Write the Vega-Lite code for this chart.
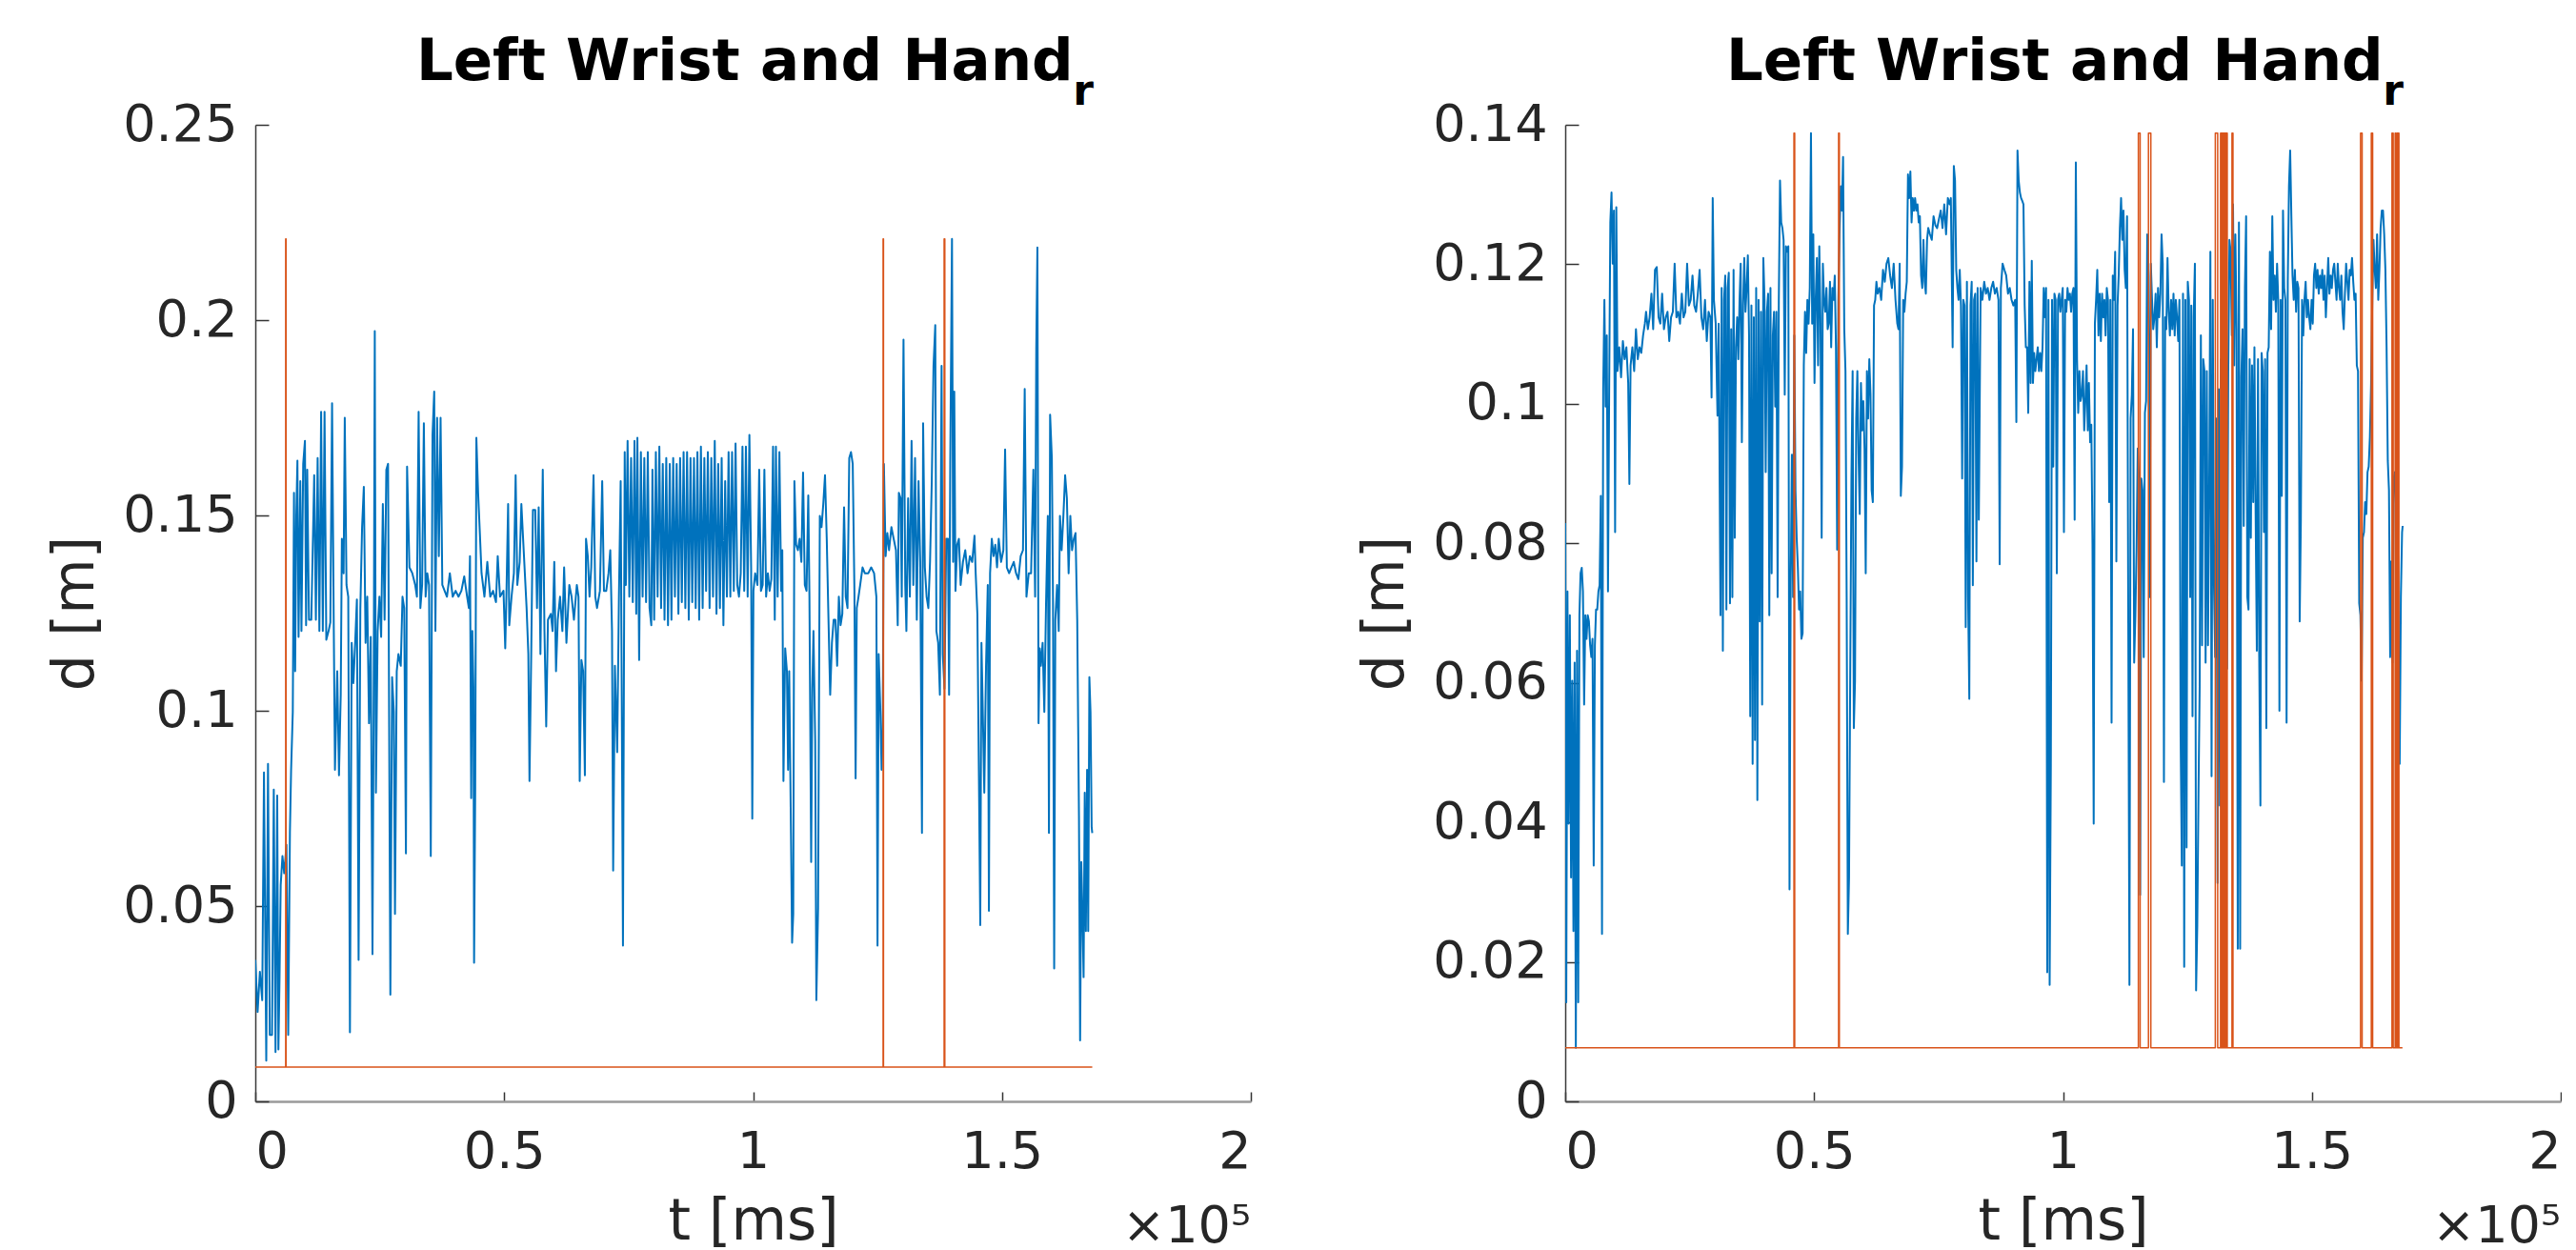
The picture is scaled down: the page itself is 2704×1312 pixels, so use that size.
{
  "$schema": "https://vega.github.io/schema/vega-lite/v6.json",
  "background": "white",
  "padding": {"left": 49, "top": 35, "right": 0, "bottom": 0},
  "bounds": "flush",
  "spacing": 330,
  "config": {
    "view": {"stroke": null},
    "font": "DejaVu Sans",
    "axis": {
      "grid": false,
      "labelFont": "DejaVu Sans", "labelFontSize": 54, "labelColor": "#262626",
      "titleFont": "DejaVu Sans", "titleFontSize": 60, "titleFontWeight": "normal", "titleColor": "#262626",
      "tickColor": "#333333", "tickWidth": 1.5
    },
    "axisX": {"tickSize": -10, "labelPadding": 36, "titlePadding": 17, "domainColor": "#9a9a9a", "domainWidth": 2.5},
    "axisY": {"tickSize": -14, "labelPadding": 33, "titlePadding": 18, "domainColor": "#3a3a3a", "domainWidth": 1.5},
    "title": {"font": "DejaVu Sans", "fontSize": 61, "fontWeight": "bold", "color": "#000000", "anchor": "end", "frame": "group", "baseline": "top", "offset": -16, "dx": -165, "subtitleFont": "DejaVu Sans", "subtitleFontSize": 44, "subtitleFontWeight": "bold", "subtitleColor": "#000000", "subtitlePadding": -22}
  },
  "datasets": {
    "L_blue": [
{"t":0,"d":0.0362},{"t":460,"d":0.0229},{"t":920,"d":0.0332},{"t":1390,"d":0.0259},{"t":1740,"d":0.0842},{"t":2200,"d":0.0104},{"t":2550,"d":0.0864},{"t":2900,"d":0.017},{"t":3360,"d":0.017},{"t":3710,"d":0.0798},{"t":4060,"d":0.0126},{"t":4400,"d":0.0783},{"t":4640,"d":0.0133},{"t":4870,"d":0.0318},{"t":5100,"d":0.0554},{"t":5450,"d":0.0628},{"t":5800,"d":0.0584},{"t":6260,"d":0.0657},{"t":6610,"d":0.017},{"t":6950,"d":0.0687},{"t":7190,"d":0.0849},{"t":7530,"d":0.0997},{"t":7770,"d":0.1558},{"t":8000,"d":0.1101},{"t":8230,"d":0.1499},{"t":8460,"d":0.164},{"t":8690,"d":0.1189},{"t":9040,"d":0.1588},{"t":9270,"d":0.1204},{"t":9620,"d":0.1632},{"t":9970,"d":0.1691},{"t":10200,"d":0.1219},{"t":10430,"d":0.1617},{"t":10780,"d":0.1233},{"t":11250,"d":0.1233},{"t":11830,"d":0.1603},{"t":12170,"d":0.1233},{"t":12520,"d":0.1647},{"t":12870,"d":0.1204},{"t":13220,"d":0.1765},{"t":13560,"d":0.1204},{"t":13910,"d":0.1765},{"t":14260,"d":0.1182},{"t":14720,"d":0.1204},{"t":15070,"d":0.1226},{"t":15420,"d":0.1787},{"t":15770,"d":0.1204},{"t":16000,"d":0.0849},{"t":16460,"d":0.1101},{"t":16810,"d":0.0835},{"t":17160,"d":0.1041},{"t":17390,"d":0.144},{"t":17740,"d":0.1352},{"t":17970,"d":0.175},{"t":18320,"d":0.1322},{"t":18670,"d":0.1292},{"t":19010,"d":0.0177},{"t":19360,"d":0.1174},{"t":19710,"d":0.1071},{"t":20060,"d":0.1174},{"t":20410,"d":0.1285},{"t":20750,"d":0.0362},{"t":21100,"d":0.1263},{"t":21450,"d":0.147},{"t":21800,"d":0.1573},{"t":22150,"d":0.1174},{"t":22490,"d":0.1292},{"t":22840,"d":0.0968},{"t":23190,"d":0.1189},{"t":23540,"d":0.0377},{"t":23770,"d":0.0997},{"t":24000,"d":0.1972},{"t":24230,"d":0.079},{"t":24580,"d":0.1204},{"t":24930,"d":0.1292},{"t":25280,"d":0.1189},{"t":25620,"d":0.1529},{"t":25970,"d":0.1233},{"t":26320,"d":0.1617},{"t":26670,"d":0.1632},{"t":26900,"d":0.0923},{"t":27130,"d":0.0273},{"t":27480,"d":0.1086},{"t":27830,"d":0.0997},{"t":28060,"d":0.048},{"t":28410,"d":0.1101},{"t":28750,"d":0.1145},{"t":29220,"d":0.1115},{"t":29570,"d":0.1292},{"t":29910,"d":0.1263},{"t":30260,"d":0.0635},{"t":30490,"d":0.1625},{"t":30960,"d":0.1367},{"t":31540,"d":0.1352},{"t":32120,"d":0.1322},{"t":32470,"d":0.1292},{"t":32810,"d":0.1765},{"t":33160,"d":0.1263},{"t":33510,"d":0.1322},{"t":33860,"d":0.1736},{"t":34210,"d":0.1292},{"t":34550,"d":0.1352},{"t":34900,"d":0.1322},{"t":35250,"d":0.0628},{"t":35600,"d":0.1706},{"t":35940,"d":0.1817},{"t":36180,"d":0.1204},{"t":36520,"d":0.175},{"t":36870,"d":0.1396},{"t":37220,"d":0.175},{"t":37570,"d":0.1322},{"t":38030,"d":0.1307},{"t":38500,"d":0.1292},{"t":39080,"d":0.1352},{"t":39660,"d":0.1292},{"t":40240,"d":0.1307},{"t":40820,"d":0.1292},{"t":41400,"d":0.1307},{"t":41970,"d":0.1344},{"t":42550,"d":0.1292},{"t":42900,"d":0.1263},{"t":43130,"d":0.1396},{"t":43370,"d":0.0776},{"t":43600,"d":0.1204},{"t":43830,"d":0.1056},{"t":43950,"d":0.0355},{"t":44180,"d":0.0805},{"t":44410,"d":0.1699},{"t":44760,"d":0.1558},{"t":45110,"d":0.1455},{"t":45450,"d":0.1352},{"t":46030,"d":0.1292},{"t":46610,"d":0.1381},{"t":47190,"d":0.1292},{"t":47770,"d":0.1307},{"t":48350,"d":0.1278},{"t":48700,"d":0.1396},{"t":49160,"d":0.1292},{"t":49860,"d":0.1307},{"t":50210,"d":0.116},{"t":50440,"d":0.1292},{"t":50790,"d":0.1529},{"t":51020,"d":0.1219},{"t":51480,"d":0.1292},{"t":51950,"d":0.1352},{"t":52300,"d":0.1603},{"t":52640,"d":0.1322},{"t":53110,"d":0.1381},{"t":53450,"d":0.1529},{"t":53800,"d":0.144},{"t":54150,"d":0.1352},{"t":54500,"d":0.1263},{"t":54850,"d":0.1145},{"t":55080,"d":0.082},{"t":55430,"d":0.1145},{"t":55770,"d":0.1514},{"t":56240,"d":0.1514},{"t":56590,"d":0.1263},{"t":56930,"d":0.1521},{"t":57280,"d":0.1145},{"t":57750,"d":0.1617},{"t":58090,"d":0.1204},{"t":58440,"d":0.096},{"t":58790,"d":0.1233},{"t":59370,"d":0.1248},{"t":59720,"d":0.1204},{"t":60060,"d":0.1381},{"t":60410,"d":0.1101},{"t":60760,"d":0.1233},{"t":61220,"d":0.1292},{"t":61690,"d":0.1204},{"t":62040,"d":0.1367},{"t":62500,"d":0.1174},{"t":63080,"d":0.1322},{"t":63540,"d":0.1292},{"t":64010,"d":0.1233},{"t":64590,"d":0.1322},{"t":64930,"d":0.1292},{"t":65170,"d":0.082},{"t":65510,"d":0.113},{"t":65860,"d":0.1101},{"t":66210,"d":0.0835},{"t":66440,"d":0.144},{"t":66790,"d":0.1396},{"t":67140,"d":0.1292},{"t":67490,"d":0.1367},{"t":67950,"d":0.1603},{"t":68300,"d":0.1292},{"t":68650,"d":0.1263},{"t":69230,"d":0.1307},{"t":69690,"d":0.1588},{"t":70040,"d":0.1307},{"t":70500,"d":0.1307},{"t":70960,"d":0.1352},{"t":71310,"d":0.1411},{"t":71660,"d":0.1204},{"t":71890,"d":0.0591},{"t":72240,"d":0.1115},{"t":72700,"d":0.0894},{"t":73050,"d":0.1292},{"t":73400,"d":0.1588},{"t":73630,"d":0.0997},{"t":73860,"d":0.0399},{"t":74210,"d":0.1662},{"t":74440,"d":0.1322},{"t":74790,"d":0.1691},{"t":75140,"d":0.1292},{"t":75490,"d":0.1647},{"t":75830,"d":0.1278},{"t":76180,"d":0.1691},{"t":76530,"d":0.1248},{"t":76760,"d":0.1699},{"t":77110,"d":0.113},{"t":77460,"d":0.1662},{"t":77810,"d":0.1292},{"t":78150,"d":0.1647},{"t":78500,"d":0.1278},{"t":78850,"d":0.1662},{"t":79200,"d":0.1263},{"t":79550,"d":0.1219},{"t":79780,"d":0.1617},{"t":80130,"d":0.1233},{"t":80470,"d":0.1662},{"t":80820,"d":0.1292},{"t":81170,"d":0.1676},{"t":81520,"d":0.1263},{"t":81860,"d":0.1632},{"t":82210,"d":0.1233},{"t":82560,"d":0.1647},{"t":82910,"d":0.1219},{"t":83260,"d":0.1632},{"t":83600,"d":0.1233},{"t":83950,"d":0.1647},{"t":84300,"d":0.1292},{"t":84650,"d":0.1632},{"t":85000,"d":0.1248},{"t":85340,"d":0.1647},{"t":85690,"d":0.1278},{"t":86040,"d":0.1662},{"t":86390,"d":0.1263},{"t":86740,"d":0.1662},{"t":87080,"d":0.1233},{"t":87430,"d":0.1647},{"t":87780,"d":0.1278},{"t":88130,"d":0.1647},{"t":88470,"d":0.1263},{"t":88820,"d":0.1662},{"t":89170,"d":0.1233},{"t":89520,"d":0.1676},{"t":89870,"d":0.1263},{"t":90210,"d":0.1647},{"t":90560,"d":0.1307},{"t":90910,"d":0.1662},{"t":91260,"d":0.1263},{"t":91610,"d":0.1647},{"t":91950,"d":0.1292},{"t":92300,"d":0.1691},{"t":92650,"d":0.1248},{"t":93000,"d":0.1632},{"t":93340,"d":0.1263},{"t":93690,"d":0.1647},{"t":94040,"d":0.1219},{"t":94390,"d":0.1588},{"t":94740,"d":0.1292},{"t":95080,"d":0.1662},{"t":95430,"d":0.1292},{"t":95780,"d":0.1662},{"t":96130,"d":0.1307},{"t":96480,"d":0.1684},{"t":96820,"d":0.1322},{"t":97170,"d":0.1292},{"t":97520,"d":0.1352},{"t":97870,"d":0.1676},{"t":98220,"d":0.1307},{"t":98560,"d":0.1676},{"t":98910,"d":0.1292},{"t":99260,"d":0.1706},{"t":99610,"d":0.1367},{"t":99840,"d":0.0724},{"t":100070,"d":0.1307},{"t":100420,"d":0.1352},{"t":100880,"d":0.1322},{"t":101230,"d":0.1617},{"t":101580,"d":0.1307},{"t":101930,"d":0.1322},{"t":102270,"d":0.1617},{"t":102620,"d":0.1292},{"t":102970,"d":0.1352},{"t":103320,"d":0.1307},{"t":103670,"d":0.1337},{"t":104010,"d":0.1676},{"t":104360,"d":0.1233},{"t":104590,"d":0.1676},{"t":104940,"d":0.1292},{"t":105290,"d":0.1662},{"t":105640,"d":0.1307},{"t":105870,"d":0.1411},{"t":106100,"d":0.082},{"t":106450,"d":0.116},{"t":106800,"d":0.1101},{"t":107030,"d":0.0849},{"t":107260,"d":0.1101},{"t":107610,"d":0.0687},{"t":107840,"d":0.0406},{"t":108070,"d":0.048},{"t":108300,"d":0.1588},{"t":108650,"d":0.1425},{"t":109000,"d":0.1411},{"t":109350,"d":0.144},{"t":109700,"d":0.1381},{"t":110040,"d":0.161},{"t":110390,"d":0.1322},{"t":110740,"d":0.1307},{"t":111090,"d":0.1551},{"t":111320,"d":0.1292},{"t":111670,"d":0.0613},{"t":111900,"d":0.1056},{"t":112130,"d":0.1204},{"t":112480,"d":0.0923},{"t":112710,"d":0.0259},{"t":113060,"d":0.0495},{"t":113410,"d":0.1499},{"t":113750,"d":0.147},{"t":114100,"d":0.1529},{"t":114450,"d":0.1603},{"t":114800,"d":0.144},{"t":115150,"d":0.1233},{"t":115490,"d":0.1041},{"t":115840,"d":0.1174},{"t":116190,"d":0.1233},{"t":116540,"d":0.1233},{"t":116890,"d":0.1115},{"t":117230,"d":0.1292},{"t":117580,"d":0.1219},{"t":117930,"d":0.1248},{"t":118280,"d":0.1521},{"t":118620,"d":0.1292},{"t":118970,"d":0.1263},{"t":119320,"d":0.1647},{"t":119670,"d":0.1662},{"t":120020,"d":0.1632},{"t":120360,"d":0.1307},{"t":120600,"d":0.0827},{"t":120830,"d":0.1263},{"t":121180,"d":0.1292},{"t":121520,"d":0.1322},{"t":121990,"d":0.1367},{"t":122450,"d":0.1352},{"t":123150,"d":0.1352},{"t":123730,"d":0.1367},{"t":124310,"d":0.1352},{"t":124770,"d":0.1292},{"t":125000,"d":0.0399},{"t":125230,"d":0.1145},{"t":125580,"d":0.0997},{"t":125810,"d":0.0849},{"t":126050,"d":0.0953},{"t":126280,"d":0.1632},{"t":126630,"d":0.1396},{"t":126970,"d":0.1455},{"t":127320,"d":0.1411},{"t":127790,"d":0.147},{"t":128250,"d":0.144},{"t":128710,"d":0.1411},{"t":129060,"d":0.1219},{"t":129290,"d":0.1558},{"t":129640,"d":0.1544},{"t":129870,"d":0.1292},{"t":130220,"d":0.195},{"t":130570,"d":0.1322},{"t":130800,"d":0.1204},{"t":131150,"d":0.1544},{"t":131500,"d":0.1292},{"t":131840,"d":0.1691},{"t":132190,"d":0.1322},{"t":132540,"d":0.1647},{"t":132890,"d":0.1233},{"t":133240,"d":0.1588},{"t":133580,"d":0.1381},{"t":133930,"d":0.0687},{"t":134160,"d":0.1736},{"t":134510,"d":0.1367},{"t":134860,"d":0.1292},{"t":135210,"d":0.1263},{"t":135550,"d":0.1381},{"t":135900,"d":0.1588},{"t":136250,"d":0.1883},{"t":136600,"d":0.1987},{"t":136830,"d":0.1204},{"t":137180,"d":0.1174},{"t":137530,"d":0.1041},{"t":137870,"d":0.1883},{"t":138110,"d":0.1145},{"t":138450,"d":0.1056},{"t":138800,"d":0.144},{"t":139150,"d":0.144},{"t":139380,"d":0.1041},{"t":139610,"d":0.1632},{"t":139960,"d":0.2208},{"t":140190,"d":0.1381},{"t":140420,"d":0.1817},{"t":140660,"d":0.1307},{"t":141000,"d":0.1425},{"t":141350,"d":0.144},{"t":141700,"d":0.1322},{"t":142160,"d":0.1381},{"t":142630,"d":0.1411},{"t":143090,"d":0.1352},{"t":143560,"d":0.1396},{"t":144020,"d":0.1381},{"t":144480,"d":0.1448},{"t":144720,"d":0.1352},{"t":145060,"d":0.1248},{"t":145410,"d":0.0776},{"t":145640,"d":0.0451},{"t":145880,"d":0.1174},{"t":146110,"d":0.1027},{"t":146450,"d":0.079},{"t":146800,"d":0.1115},{"t":147150,"d":0.1322},{"t":147380,"d":0.0488},{"t":147610,"d":0.1352},{"t":147960,"d":0.144},{"t":148310,"d":0.1396},{"t":148660,"d":0.1425},{"t":149010,"d":0.1367},{"t":149350,"d":0.144},{"t":149820,"d":0.1381},{"t":150280,"d":0.1411},{"t":150630,"d":0.1669},{"t":150980,"d":0.1367},{"t":151440,"d":0.1352},{"t":151900,"d":0.1367},{"t":152370,"d":0.1381},{"t":152830,"d":0.1352},{"t":153300,"d":0.1337},{"t":153760,"d":0.1396},{"t":154220,"d":0.1411},{"t":154570,"d":0.1824},{"t":154920,"d":0.1292},{"t":155380,"d":0.1352},{"t":155850,"d":0.1352},{"t":156310,"d":0.1617},{"t":156660,"d":0.1292},{"t":156890,"d":0.1928},{"t":157120,"d":0.2186},{"t":157350,"d":0.0968},{"t":157590,"d":0.116},{"t":157820,"d":0.1115},{"t":158170,"d":0.1174},{"t":158510,"d":0.0997},{"t":158860,"d":0.1278},{"t":159210,"d":0.1499},{"t":159440,"d":0.0687},{"t":159670,"d":0.1758},{"t":160020,"d":0.1647},{"t":160250,"d":0.1292},{"t":160490,"d":0.034},{"t":160720,"d":0.1233},{"t":161070,"d":0.1322},{"t":161410,"d":0.1204},{"t":161650,"d":0.1499},{"t":161990,"d":0.1411},{"t":162340,"d":0.1499},{"t":162690,"d":0.1603},{"t":163040,"d":0.1544},{"t":163390,"d":0.1352},{"t":163730,"d":0.1499},{"t":164080,"d":0.1411},{"t":164430,"d":0.144},{"t":164780,"d":0.1455},{"t":165120,"d":0.1233},{"t":165470,"d":0.0731},{"t":165700,"d":0.0156},{"t":165940,"d":0.0613},{"t":166170,"d":0.048},{"t":166400,"d":0.0318},{"t":166630,"d":0.079},{"t":166860,"d":0.0436},{"t":167100,"d":0.0849},{"t":167330,"d":0.0436},{"t":167560,"d":0.1086},{"t":167790,"d":0.0997},{"t":168020,"d":0.0702},{"t":168140,"d":0.0687}
    ],
    "L_orange": [
{"t":0,"d":0.0088},{"t":6100,"d":0.0088},{"t":6100,"d":0.2208},{"t":6180,"d":0.2208},{"t":6180,"d":0.0088},{"t":126120,"d":0.0088},{"t":126120,"d":0.2208},{"t":126200,"d":0.2208},{"t":126200,"d":0.0088},{"t":138380,"d":0.0088},{"t":138380,"d":0.2208},{"t":138520,"d":0.2208},{"t":138520,"d":0.0088},{"t":168140,"d":0.0088}
    ],
    "R_blue": [
{"t":0,"d":0.0829},{"t":210,"d":0.0142},{"t":450,"d":0.0731},{"t":690,"d":0.0398},{"t":930,"d":0.0697},{"t":1170,"d":0.0321},{"t":1410,"d":0.0603},{"t":1650,"d":0.0244},{"t":1890,"d":0.0629},{"t":2130,"d":0.0077},{"t":2370,"d":0.0646},{"t":2610,"d":0.0142},{"t":2850,"d":0.0697},{"t":3080,"d":0.0757},{"t":3320,"d":0.0765},{"t":3560,"d":0.0731},{"t":3800,"d":0.0569},{"t":4040,"d":0.0697},{"t":4280,"d":0.0663},{"t":4520,"d":0.0697},{"t":4760,"d":0.0688},{"t":5000,"d":0.0654},{"t":5240,"d":0.0637},{"t":5480,"d":0.0663},{"t":5720,"d":0.0338},{"t":5960,"d":0.0654},{"t":6190,"d":0.0705},{"t":6430,"d":0.0705},{"t":6670,"d":0.0731},{"t":6910,"d":0.074},{"t":7150,"d":0.0868},{"t":7390,"d":0.024},{"t":7630,"d":0.1021},{"t":7870,"d":0.1149},{"t":8110,"d":0.0996},{"t":8350,"d":0.1098},{"t":8590,"d":0.0731},{"t":8830,"d":0.1021},{"t":9060,"d":0.126},{"t":9300,"d":0.1303},{"t":9540,"d":0.1201},{"t":9780,"d":0.1277},{"t":10020,"d":0.0816},{"t":10260,"d":0.1282},{"t":10500,"d":0.1047},{"t":10860,"d":0.1081},{"t":11220,"d":0.1038},{"t":11580,"d":0.109},{"t":11930,"d":0.1064},{"t":12290,"d":0.1081},{"t":12650,"d":0.103},{"t":12890,"d":0.0885},{"t":13130,"d":0.1055},{"t":13490,"d":0.1081},{"t":13850,"d":0.1047},{"t":14210,"d":0.1107},{"t":14570,"d":0.1064},{"t":14920,"d":0.1081},{"t":15280,"d":0.1073},{"t":15640,"d":0.1098},{"t":16000,"d":0.1115},{"t":16240,"d":0.1132},{"t":16600,"d":0.1107},{"t":16960,"d":0.1124},{"t":17320,"d":0.1158},{"t":17670,"d":0.1107},{"t":18030,"d":0.1192},{"t":18390,"d":0.1196},{"t":18750,"d":0.1124},{"t":19110,"d":0.1115},{"t":19470,"d":0.1158},{"t":19830,"d":0.1107},{"t":20190,"d":0.1124},{"t":20550,"d":0.1132},{"t":20900,"d":0.109},{"t":21260,"d":0.1124},{"t":21620,"d":0.1132},{"t":21980,"d":0.1201},{"t":22340,"d":0.1124},{"t":22700,"d":0.1132},{"t":23060,"d":0.1115},{"t":23420,"d":0.1158},{"t":23770,"d":0.1124},{"t":24130,"d":0.1132},{"t":24490,"d":0.1201},{"t":24850,"d":0.1141},{"t":25210,"d":0.1149},{"t":25570,"d":0.1184},{"t":25930,"d":0.1141},{"t":26290,"d":0.1132},{"t":26640,"d":0.1158},{"t":27000,"d":0.1192},{"t":27360,"d":0.1124},{"t":27720,"d":0.1107},{"t":28080,"d":0.1149},{"t":28440,"d":0.109},{"t":28800,"d":0.1132},{"t":29160,"d":0.1124},{"t":29400,"d":0.1009},{"t":29630,"d":0.1295},{"t":29870,"d":0.1149},{"t":30230,"d":0.1115},{"t":30590,"d":0.0983},{"t":30830,"d":0.1115},{"t":31190,"d":0.0697},{"t":31430,"d":0.1166},{"t":31670,"d":0.0646},{"t":31910,"d":0.1149},{"t":32150,"d":0.1184},{"t":32380,"d":0.0705},{"t":32620,"d":0.1166},{"t":32860,"d":0.1188},{"t":33100,"d":0.0714},{"t":33340,"d":0.1107},{"t":33580,"d":0.0723},{"t":33820,"d":0.1192},{"t":34060,"d":0.0808},{"t":34300,"d":0.1081},{"t":34540,"d":0.1124},{"t":34780,"d":0.1064},{"t":35020,"d":0.1149},{"t":35250,"d":0.1201},{"t":35490,"d":0.0945},{"t":35730,"d":0.1141},{"t":35970,"d":0.1209},{"t":36210,"d":0.1132},{"t":36450,"d":0.1166},{"t":36690,"d":0.1213},{"t":36930,"d":0.1098},{"t":37170,"d":0.0552},{"t":37410,"d":0.1141},{"t":37650,"d":0.0484},{"t":37890,"d":0.1124},{"t":38120,"d":0.0518},{"t":38360,"d":0.1166},{"t":38600,"d":0.0432},{"t":38840,"d":0.1149},{"t":39080,"d":0.0688},{"t":39320,"d":0.1132},{"t":39560,"d":0.0569},{"t":39800,"d":0.1209},{"t":40040,"d":0.1149},{"t":40280,"d":0.0902},{"t":40520,"d":0.1132},{"t":40760,"d":0.1158},{"t":41000,"d":0.0697},{"t":41230,"d":0.1166},{"t":41470,"d":0.0757},{"t":41710,"d":0.1098},{"t":41950,"d":0.1132},{"t":42190,"d":0.0996},{"t":42430,"d":0.1132},{"t":42670,"d":0.0723},{"t":42910,"d":0.1149},{"t":43150,"d":0.132},{"t":43390,"d":0.126},{"t":43630,"d":0.1252},{"t":43870,"d":0.1235},{"t":44100,"d":0.1013},{"t":44340,"d":0.1226},{"t":44580,"d":0.1218},{"t":44820,"d":0.1226},{"t":45060,"d":0.0304},{"t":45300,"d":0.074},{"t":45540,"d":0.0927},{"t":45780,"d":0.0723},{"t":46020,"d":0.1098},{"t":46260,"d":0.0876},{"t":46500,"d":0.0808},{"t":46740,"d":0.0765},{"t":46970,"d":0.0705},{"t":47210,"d":0.0731},{"t":47450,"d":0.0663},{"t":47690,"d":0.0671},{"t":47930,"d":0.1055},{"t":48170,"d":0.1132},{"t":48410,"d":0.1073},{"t":48650,"d":0.1149},{"t":48890,"d":0.1115},{"t":49130,"d":0.1166},{"t":49370,"d":0.1388},{"t":49610,"d":0.1115},{"t":49840,"d":0.1243},{"t":50080,"d":0.103},{"t":50320,"d":0.1149},{"t":50560,"d":0.1209},{"t":50800,"d":0.1055},{"t":51040,"d":0.1226},{"t":51280,"d":0.1124},{"t":51520,"d":0.0808},{"t":51760,"d":0.1201},{"t":52000,"d":0.1149},{"t":52240,"d":0.1132},{"t":52480,"d":0.1166},{"t":52720,"d":0.1107},{"t":52950,"d":0.1115},{"t":53190,"d":0.1175},{"t":53430,"d":0.1081},{"t":53670,"d":0.1166},{"t":53910,"d":0.1149},{"t":54150,"d":0.1184},{"t":54390,"d":0.1081},{"t":54630,"d":0.0791},{"t":54870,"d":0.1149},{"t":55110,"d":0.1243},{"t":55350,"d":0.1312},{"t":55590,"d":0.1277},{"t":55820,"d":0.1354},{"t":56060,"d":0.1107},{"t":56300,"d":0.1047},{"t":56540,"d":0.0723},{"t":56780,"d":0.024},{"t":57020,"d":0.0321},{"t":57260,"d":0.062},{"t":57500,"d":0.0893},{"t":57740,"d":0.1047},{"t":57980,"d":0.0535},{"t":58220,"d":0.0603},{"t":58460,"d":0.0979},{"t":58690,"d":0.1047},{"t":58930,"d":0.0927},{"t":59170,"d":0.0842},{"t":59410,"d":0.103},{"t":59650,"d":0.0962},{"t":59890,"d":0.1004},{"t":60130,"d":0.0936},{"t":60370,"d":0.0757},{"t":60610,"d":0.1047},{"t":60850,"d":0.0979},{"t":61090,"d":0.1064},{"t":61330,"d":0.1013},{"t":61560,"d":0.0876},{"t":61800,"d":0.0859},{"t":62040,"d":0.1141},{"t":62280,"d":0.1149},{"t":62520,"d":0.1175},{"t":62760,"d":0.1158},{"t":63120,"d":0.1166},{"t":63480,"d":0.1149},{"t":63840,"d":0.1192},{"t":64200,"d":0.1175},{"t":64550,"d":0.1201},{"t":64910,"d":0.1209},{"t":65270,"d":0.1184},{"t":65630,"d":0.1166},{"t":65990,"d":0.1201},{"t":66350,"d":0.1149},{"t":66710,"d":0.1115},{"t":66950,"d":0.1107},{"t":67190,"d":0.1201},{"t":67420,"d":0.0868},{"t":67660,"d":0.091},{"t":67900,"d":0.1149},{"t":68140,"d":0.1132},{"t":68380,"d":0.1158},{"t":68620,"d":0.1175},{"t":68860,"d":0.1329},{"t":69100,"d":0.1295},{"t":69340,"d":0.1333},{"t":69580,"d":0.126},{"t":69820,"d":0.1295},{"t":70060,"d":0.1277},{"t":70290,"d":0.1295},{"t":70530,"d":0.1277},{"t":70770,"d":0.1286},{"t":71010,"d":0.126},{"t":71250,"d":0.1269},{"t":71490,"d":0.1184},{"t":71730,"d":0.1166},{"t":71970,"d":0.1235},{"t":72210,"d":0.1175},{"t":72450,"d":0.1158},{"t":72690,"d":0.1235},{"t":72930,"d":0.1252},{"t":73280,"d":0.1243},{"t":73640,"d":0.1235},{"t":74000,"d":0.1269},{"t":74360,"d":0.1256},{"t":74720,"d":0.1252},{"t":75080,"d":0.1265},{"t":75440,"d":0.1277},{"t":75800,"d":0.1252},{"t":76150,"d":0.1286},{"t":76510,"d":0.1243},{"t":76870,"d":0.1295},{"t":77230,"d":0.1286},{"t":77470,"d":0.1295},{"t":77830,"d":0.1081},{"t":78070,"d":0.1341},{"t":78310,"d":0.132},{"t":78550,"d":0.1192},{"t":78790,"d":0.1166},{"t":79020,"d":0.1149},{"t":79260,"d":0.1192},{"t":79500,"d":0.1141},{"t":79740,"d":0.0893},{"t":79980,"d":0.1149},{"t":80220,"d":0.1141},{"t":80460,"d":0.068},{"t":80700,"d":0.1175},{"t":80940,"d":0.0723},{"t":81180,"d":0.0577},{"t":81420,"d":0.1141},{"t":81660,"d":0.1175},{"t":81890,"d":0.074},{"t":82130,"d":0.1149},{"t":82370,"d":0.1158},{"t":82610,"d":0.0774},{"t":82850,"d":0.1166},{"t":83090,"d":0.0834},{"t":83450,"d":0.1166},{"t":83810,"d":0.1149},{"t":84170,"d":0.1175},{"t":84530,"d":0.1158},{"t":84880,"d":0.1166},{"t":85240,"d":0.1149},{"t":85600,"d":0.1166},{"t":85960,"d":0.1175},{"t":86320,"d":0.1158},{"t":86680,"d":0.1166},{"t":87040,"d":0.1149},{"t":87280,"d":0.077},{"t":87520,"d":0.1166},{"t":87870,"d":0.1201},{"t":88230,"d":0.1192},{"t":88590,"d":0.1184},{"t":88950,"d":0.1158},{"t":89310,"d":0.1166},{"t":89670,"d":0.1149},{"t":90030,"d":0.1141},{"t":90390,"d":0.1149},{"t":90630,"d":0.0974},{"t":90860,"d":0.1363},{"t":91100,"d":0.132},{"t":91340,"d":0.1303},{"t":91580,"d":0.1295},{"t":91820,"d":0.1291},{"t":92060,"d":0.1286},{"t":92300,"d":0.1141},{"t":92540,"d":0.1081},{"t":92780,"d":0.1081},{"t":93020,"d":0.0987},{"t":93260,"d":0.1175},{"t":93500,"d":0.103},{"t":93730,"d":0.1205},{"t":93970,"d":0.103},{"t":94210,"d":0.1073},{"t":94450,"d":0.1047},{"t":94690,"d":0.1064},{"t":94930,"d":0.1081},{"t":95170,"d":0.1047},{"t":95410,"d":0.1073},{"t":95650,"d":0.1047},{"t":95890,"d":0.1081},{"t":96130,"d":0.1166},{"t":96370,"d":0.1124},{"t":96600,"d":0.1166},{"t":96840,"d":0.0185},{"t":97080,"d":0.1149},{"t":97320,"d":0.0167},{"t":97560,"d":0.0484},{"t":97800,"d":0.1149},{"t":98040,"d":0.091},{"t":98280,"d":0.1158},{"t":98520,"d":0.1149},{"t":98760,"d":0.0757},{"t":99000,"d":0.1149},{"t":99240,"d":0.1158},{"t":99470,"d":0.1132},{"t":99710,"d":0.1149},{"t":99950,"d":0.1166},{"t":100190,"d":0.0816},{"t":100430,"d":0.1149},{"t":100670,"d":0.1132},{"t":100910,"d":0.1166},{"t":101150,"d":0.1149},{"t":101390,"d":0.1158},{"t":101630,"d":0.1132},{"t":101870,"d":0.1158},{"t":102110,"d":0.1166},{"t":102340,"d":0.0834},{"t":102580,"d":0.1346},{"t":102820,"d":0.1064},{"t":103060,"d":0.0987},{"t":103300,"d":0.1047},{"t":103540,"d":0.1004},{"t":103780,"d":0.1013},{"t":104020,"d":0.1047},{"t":104260,"d":0.0962},{"t":104500,"d":0.1004},{"t":104740,"d":0.1055},{"t":104980,"d":0.0962},{"t":105210,"d":0.103},{"t":105450,"d":0.0945},{"t":105690,"d":0.097},{"t":105930,"d":0.0799},{"t":106170,"d":0.0398},{"t":106410,"d":0.1115},{"t":106650,"d":0.1149},{"t":106890,"d":0.1192},{"t":107130,"d":0.1098},{"t":107370,"d":0.1158},{"t":107610,"d":0.109},{"t":107850,"d":0.1158},{"t":108090,"d":0.1124},{"t":108320,"d":0.1149},{"t":108560,"d":0.1098},{"t":108800,"d":0.1166},{"t":109040,"d":0.1149},{"t":109280,"d":0.0859},{"t":109520,"d":0.1149},{"t":109760,"d":0.0543},{"t":110000,"d":0.1184},{"t":110240,"d":0.1149},{"t":110480,"d":0.1218},{"t":110720,"d":0.0774},{"t":110960,"d":0.1141},{"t":111190,"d":0.1184},{"t":111430,"d":0.1252},{"t":111670,"d":0.1295},{"t":111910,"d":0.1235},{"t":112150,"d":0.1277},{"t":112390,"d":0.1192},{"t":112630,"d":0.1166},{"t":112870,"d":0.1269},{"t":113110,"d":0.0697},{"t":113350,"d":0.0167},{"t":113590,"d":0.0979},{"t":113830,"d":0.1013},{"t":114070,"d":0.1107},{"t":114300,"d":0.0629},{"t":114540,"d":0.0697},{"t":114780,"d":0.0791},{"t":115020,"d":0.0936},{"t":115260,"d":0.0893},{"t":115500,"d":0.0296},{"t":115740,"d":0.0893},{"t":115980,"d":0.0876},{"t":116220,"d":0.0637},{"t":116460,"d":0.0987},{"t":116700,"d":0.1004},{"t":116930,"d":0.1243},{"t":117170,"d":0.1184},{"t":117410,"d":0.0723},{"t":117650,"d":0.1201},{"t":117890,"d":0.1149},{"t":118130,"d":0.1107},{"t":118370,"d":0.1124},{"t":118610,"d":0.1158},{"t":118850,"d":0.1081},{"t":119090,"d":0.1166},{"t":119330,"d":0.1124},{"t":119570,"d":0.1158},{"t":119800,"d":0.1243},{"t":120040,"d":0.1201},{"t":120280,"d":0.0458},{"t":120520,"d":0.1124},{"t":120760,"d":0.1107},{"t":121000,"d":0.1209},{"t":121240,"d":0.1132},{"t":121480,"d":0.1098},{"t":121720,"d":0.1149},{"t":121960,"d":0.1107},{"t":122200,"d":0.1158},{"t":122440,"d":0.1098},{"t":122670,"d":0.1149},{"t":122910,"d":0.1124},{"t":123150,"d":0.109},{"t":123390,"d":0.1149},{"t":123630,"d":0.0526},{"t":123870,"d":0.0338},{"t":124110,"d":0.1158},{"t":124350,"d":0.0193},{"t":124590,"d":0.1149},{"t":124830,"d":0.0364},{"t":125070,"d":0.1175},{"t":125310,"d":0.1149},{"t":125550,"d":0.0723},{"t":125780,"d":0.1141},{"t":126020,"d":0.0552},{"t":126260,"d":0.1124},{"t":126500,"d":0.1201},{"t":126740,"d":0.0159},{"t":126980,"d":0.0253},{"t":127220,"d":0.0441},{"t":127460,"d":0.0595},{"t":127700,"d":0.1098},{"t":127940,"d":0.0654},{"t":128180,"d":0.1064},{"t":128420,"d":0.1047},{"t":128650,"d":0.0629},{"t":128890,"d":0.1047},{"t":129130,"d":0.0654},{"t":129370,"d":0.0876},{"t":129610,"d":0.1218},{"t":129850,"d":0.0466},{"t":130090,"d":0.1149},{"t":130330,"d":0.074},{"t":130570,"d":0.0637},{"t":130810,"d":0.0979},{"t":131050,"d":0.0313},{"t":131290,"d":0.1021},{"t":131520,"d":0.0424},{"t":131760,"d":0.1064},{"t":132000,"d":0.0381},{"t":132240,"d":0.0979},{"t":132480,"d":0.0603},{"t":132720,"d":0.1081},{"t":132960,"d":0.062},{"t":133200,"d":0.1047},{"t":133440,"d":0.1235},{"t":133680,"d":0.1218},{"t":133920,"d":0.1098},{"t":134160,"d":0.1286},{"t":134390,"d":0.1055},{"t":134630,"d":0.1243},{"t":134870,"d":0.1107},{"t":135110,"d":0.0219},{"t":135350,"d":0.126},{"t":135590,"d":0.0219},{"t":135830,"d":0.1038},{"t":136070,"d":0.1107},{"t":136310,"d":0.0825},{"t":136550,"d":0.1166},{"t":136790,"d":0.1269},{"t":137030,"d":0.0723},{"t":137270,"d":0.0705},{"t":137500,"d":0.1064},{"t":137740,"d":0.0808},{"t":137980,"d":0.1055},{"t":138220,"d":0.0859},{"t":138460,"d":0.1081},{"t":138700,"d":0.0842},{"t":138940,"d":0.0646},{"t":139180,"d":0.1064},{"t":139420,"d":0.0637},{"t":139660,"d":0.0424},{"t":139900,"d":0.1073},{"t":140140,"d":0.1047},{"t":140370,"d":0.0816},{"t":140610,"d":0.1064},{"t":140850,"d":0.0535},{"t":141090,"d":0.1073},{"t":141330,"d":0.1081},{"t":141570,"d":0.1218},{"t":141810,"d":0.1107},{"t":142050,"d":0.1269},{"t":142290,"d":0.1149},{"t":142530,"d":0.1184},{"t":142770,"d":0.1132},{"t":143010,"d":0.1201},{"t":143240,"d":0.1149},{"t":143480,"d":0.056},{"t":143720,"d":0.1149},{"t":143960,"d":0.0868},{"t":144200,"d":0.1277},{"t":144440,"d":0.1166},{"t":144680,"d":0.1149},{"t":144920,"d":0.0543},{"t":145160,"d":0.1175},{"t":145400,"d":0.1312},{"t":145640,"d":0.1363},{"t":145880,"d":0.1269},{"t":146110,"d":0.1184},{"t":146350,"d":0.1149},{"t":146590,"d":0.1192},{"t":146830,"d":0.1132},{"t":147070,"d":0.1175},{"t":147310,"d":0.1166},{"t":147550,"d":0.0688},{"t":147790,"d":0.0834},{"t":148030,"d":0.1149},{"t":148270,"d":0.1098},{"t":148510,"d":0.1149},{"t":148750,"d":0.1175},{"t":148990,"d":0.1124},{"t":149220,"d":0.1149},{"t":149460,"d":0.1124},{"t":149700,"d":0.1107},{"t":149940,"d":0.1149},{"t":150180,"d":0.1115},{"t":150420,"d":0.1184},{"t":150660,"d":0.1201},{"t":150900,"d":0.1166},{"t":151140,"d":0.1192},{"t":151380,"d":0.1158},{"t":151620,"d":0.1184},{"t":151860,"d":0.1166},{"t":152090,"d":0.1192},{"t":152330,"d":0.1149},{"t":152570,"d":0.1184},{"t":152810,"d":0.1124},{"t":153050,"d":0.1166},{"t":153290,"d":0.1209},{"t":153530,"d":0.1158},{"t":153770,"d":0.1184},{"t":154010,"d":0.1166},{"t":154250,"d":0.1192},{"t":154490,"d":0.1201},{"t":154720,"d":0.1175},{"t":154960,"d":0.1149},{"t":155200,"d":0.1201},{"t":155440,"d":0.1166},{"t":155680,"d":0.1149},{"t":155920,"d":0.1184},{"t":156160,"d":0.1132},{"t":156400,"d":0.1107},{"t":156640,"d":0.1158},{"t":156880,"d":0.1201},{"t":157120,"d":0.1175},{"t":157360,"d":0.1149},{"t":157600,"d":0.1192},{"t":157830,"d":0.1184},{"t":158070,"d":0.1209},{"t":158310,"d":0.1175},{"t":158550,"d":0.1149},{"t":158790,"d":0.1158},{"t":159030,"d":0.1055},{"t":159270,"d":0.1047},{"t":159510,"d":0.0714},{"t":159750,"d":0.0697},{"t":159990,"d":0.0603},{"t":160230,"d":0.0808},{"t":160470,"d":0.0816},{"t":160700,"d":0.0859},{"t":160940,"d":0.0842},{"t":161180,"d":0.0902},{"t":161420,"d":0.091},{"t":161660,"d":0.0953},{"t":161900,"d":0.103},{"t":162140,"d":0.1149},{"t":162380,"d":0.1235},{"t":162620,"d":0.1192},{"t":162860,"d":0.1166},{"t":163100,"d":0.1243},{"t":163340,"d":0.1149},{"t":163570,"d":0.1192},{"t":163810,"d":0.1252},{"t":164050,"d":0.1277},{"t":164290,"d":0.1277},{"t":164530,"d":0.1243},{"t":164770,"d":0.1192},{"t":165010,"d":0.1081},{"t":165250,"d":0.0919},{"t":165490,"d":0.0876},{"t":165730,"d":0.0637},{"t":165970,"d":0.0774},{"t":166210,"d":0.0629},{"t":166440,"d":0.0893},{"t":166680,"d":0.0902},{"t":166920,"d":0.0851},{"t":167160,"d":0.0791},{"t":167400,"d":0.0637},{"t":167640,"d":0.0484},{"t":167880,"d":0.0723},{"t":168120,"d":0.0816},{"t":168240,"d":0.0825}
    ],
    "R_orange": [
{"t":0,"d":0.0077},{"t":45950,"d":0.0077},{"t":45950,"d":0.1388},{"t":46100,"d":0.1388},{"t":46100,"d":0.0077},{"t":54920,"d":0.0077},{"t":54920,"d":0.1388},{"t":55070,"d":0.1388},{"t":55070,"d":0.0077},{"t":115140,"d":0.0077},{"t":115140,"d":0.1388},{"t":115500,"d":0.1388},{"t":115500,"d":0.0077},{"t":117170,"d":0.0077},{"t":117170,"d":0.1388},{"t":117650,"d":0.1388},{"t":117650,"d":0.0077},{"t":130600,"d":0.0077},{"t":130600,"d":0.1388},{"t":131080,"d":0.1388},{"t":131080,"d":0.0077},{"t":131650,"d":0.0077},{"t":131650,"d":0.1388},{"t":131750,"d":0.1388},{"t":131750,"d":0.0077},{"t":131850,"d":0.0077},{"t":131850,"d":0.1388},{"t":131950,"d":0.1388},{"t":131950,"d":0.0077},{"t":132050,"d":0.0077},{"t":132050,"d":0.1388},{"t":132150,"d":0.1388},{"t":132150,"d":0.0077},{"t":132250,"d":0.0077},{"t":132250,"d":0.1388},{"t":132350,"d":0.1388},{"t":132350,"d":0.0077},{"t":132450,"d":0.0077},{"t":132450,"d":0.1388},{"t":132550,"d":0.1388},{"t":132550,"d":0.0077},{"t":132650,"d":0.0077},{"t":132650,"d":0.1388},{"t":132750,"d":0.1388},{"t":132750,"d":0.0077},{"t":132850,"d":0.0077},{"t":132850,"d":0.1388},{"t":133000,"d":0.1388},{"t":133000,"d":0.0077},{"t":133950,"d":0.0077},{"t":133950,"d":0.1388},{"t":134150,"d":0.1388},{"t":134150,"d":0.0077},{"t":159780,"d":0.0077},{"t":159780,"d":0.1388},{"t":160100,"d":0.1388},{"t":160100,"d":0.0077},{"t":161940,"d":0.0077},{"t":161940,"d":0.1388},{"t":162210,"d":0.1388},{"t":162210,"d":0.0077},{"t":166090,"d":0.0077},{"t":166090,"d":0.1388},{"t":166340,"d":0.1388},{"t":166340,"d":0.0077},{"t":166730,"d":0.0077},{"t":166730,"d":0.1388},{"t":166900,"d":0.1388},{"t":166900,"d":0.0077},{"t":167100,"d":0.0077},{"t":167100,"d":0.1388},{"t":167250,"d":0.1388},{"t":167250,"d":0.0077},{"t":167350,"d":0.0077},{"t":167350,"d":0.1388},{"t":167490,"d":0.1388},{"t":167490,"d":0.0077},{"t":168200,"d":0.0077}
    ]
  },
  "hconcat": [
    {
      "width": 1045,
      "height": 1025,
      "title": {"text": "Left Wrist and Hand\u00a0\u2060", "subtitle": "r"},
      "layer": [
        {
          "data": {"name": "L_blue"},
          "mark": {"type": "line", "color": "#0072BD", "strokeWidth": 2, "strokeJoin": "round", "clip": true},
          "encoding": {
            "x": {"field": "t", "type": "quantitative", "scale": {"domain": [0, 200000], "nice": false, "zero": false}, "axis": {"title": "t [ms]", "values": [0, 50000, 100000, 150000, 200000], "labelExpr": "datum.value / 100000"}},
            "y": {"field": "d", "type": "quantitative", "scale": {"domain": [0, 0.25], "nice": false}, "axis": {"title": "d [m]", "values": [0, 0.05, 0.1, 0.15, 0.2, 0.25], "format": "~g"}}
          }
        },
        {
          "data": {"name": "L_orange"},
          "mark": {"type": "line", "color": "#D95319", "strokeWidth": 1.5, "strokeJoin": "round", "clip": true},
          "encoding": {
            "x": {"field": "t", "type": "quantitative", "scale": {"domain": [0, 200000], "nice": false, "zero": false}, "axis": {"orient": "bottom", "title": "\u00d710\u2075", "labels": false, "ticks": false, "domainOpacity": 0, "titleAnchor": "end", "titleFontSize": 54, "titlePadding": 104}},
            "y": {"field": "d", "type": "quantitative", "scale": {"domain": [0, 0.25], "nice": false}, "axis": {"title": "d [m]", "values": [0, 0.05, 0.1, 0.15, 0.2, 0.25], "format": "~g"}},
            "order": {"value": null}
          }
        }
      ],
      "resolve": {"scale": {"x": "independent"}, "axis": {"x": "independent"}}
    },
    {
      "width": 1045,
      "height": 1025,
      "title": {"text": "Left Wrist and Hand\u00a0\u2060", "subtitle": "r"},
      "layer": [
        {
          "data": {"name": "R_blue"},
          "mark": {"type": "line", "color": "#0072BD", "strokeWidth": 2, "strokeJoin": "round", "clip": true},
          "encoding": {
            "x": {"field": "t", "type": "quantitative", "scale": {"domain": [0, 200000], "nice": false, "zero": false}, "axis": {"title": "t [ms]", "values": [0, 50000, 100000, 150000, 200000], "labelExpr": "datum.value / 100000"}},
            "y": {"field": "d", "type": "quantitative", "scale": {"domain": [0, 0.14], "nice": false}, "axis": {"title": "d [m]", "values": [0, 0.02, 0.04, 0.06, 0.08, 0.1, 0.12, 0.14], "format": "~g"}}
          }
        },
        {
          "data": {"name": "R_orange"},
          "mark": {"type": "line", "color": "#D95319", "strokeWidth": 1.5, "strokeJoin": "round", "clip": true},
          "encoding": {
            "x": {"field": "t", "type": "quantitative", "scale": {"domain": [0, 200000], "nice": false, "zero": false}, "axis": {"orient": "bottom", "title": "\u00d710\u2075", "labels": false, "ticks": false, "domainOpacity": 0, "titleAnchor": "end", "titleFontSize": 54, "titlePadding": 104}},
            "y": {"field": "d", "type": "quantitative", "scale": {"domain": [0, 0.14], "nice": false}, "axis": {"title": "d [m]", "values": [0, 0.02, 0.04, 0.06, 0.08, 0.1, 0.12, 0.14], "format": "~g"}},
            "order": {"value": null}
          }
        }
      ],
      "resolve": {"scale": {"x": "independent"}, "axis": {"x": "independent"}}
    }
  ]
}
